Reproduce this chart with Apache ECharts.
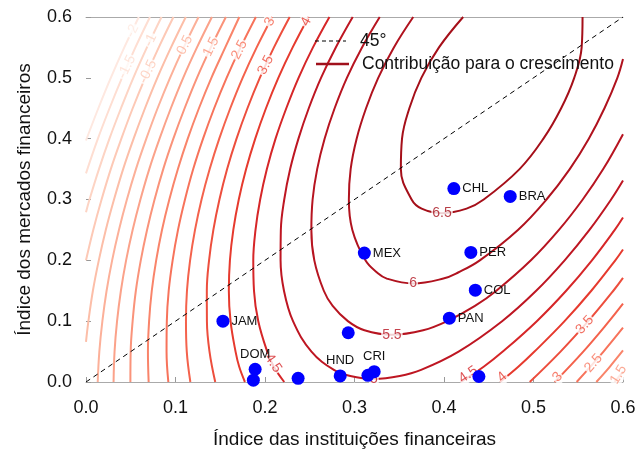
<!DOCTYPE html>
<html><head><meta charset="utf-8">
<script src="https://cdn.jsdelivr.net/npm/echarts@6/dist/echarts.min.js"></script>
<style>html,body{margin:0;padding:0;background:#fff}#c{width:639px;height:460px}</style>
</head><body><div id="c"></div>
<script>
// ---------------- data ----------------
const countries = ['CHL','BRA','MEX','PER','COL','PAN','JAM','DOM','HND','CRI','','','','',''];
const fiIndex  = [0.411,0.474,0.311,0.430,0.435,0.406,0.153,0.189,0.284,0.322,0.187,0.237,0.293,0.439,0.315];
const fmIndex  = [0.318,0.305,0.212,0.213,0.151,0.105,0.100,0.021,0.010,0.017,0.003,0.006,0.081,0.009,0.011];
const diagonal = [[0,0],[0.6,0.6]];

// contour lines (x = financial institutions index, y = financial markets index)
const c_m2  = [[0,.397],[.0138,.45],[.0277,.5],[.0428,.55],[.059,.6]];
const c_m15 = [[0,.343],[.0133,.4],[.0263,.45],[.0402,.5],[.0552,.55],[.0715,.6]];
const c_m1  = [[0,.279],[.0039,.3],[.0145,.35],[.0262,.4],[.0391,.45],[.0529,.5],[.0681,.55],[.0844,.6]];
const c_m05 = [[0,.2],[.0081,.25],[.0174,.3],[.0277,.35],[.0395,.4],[.0522,.45],[.0661,.5],[.0813,.55],[.0977,.6]];
const c_0   = [[0,.066],[.0027,.1],[.0077,.15],[.0143,.2],[.0221,.25],[.0313,.3],[.0415,.35],[.0532,.4],[.0659,.45],[.0797,.5],[.095,.55],[.1115,.6]];
const c_05  = [[.0131,0],[.0149,.05],[.0183,.1],[.023,.15],[.0292,.2],[.0368,.25],[.0457,.3],[.0558,.35],[.0674,.4],[.08,.45],[.0939,.5],[.1092,.55],[.1258,.6]];
const c_1   = [[.0308,0],[.0319,.05],[.0347,.1],[.039,.15],[.0448,.2],[.0521,.25],[.0608,.3],[.0707,.35],[.0822,.4],[.0948,.45],[.1086,.5],[.124,.55],[.1407,.6]];
const c_15  = [[.0496,0],[.0499,.05],[.0521,.1],[.0557,.15],[.0612,.2],[.0682,.25],[.0766,.3],[.0863,.35],[.0976,.4],[.1102,.45],[.124,.5],[.1395,.55],[.1563,.6]];
const c_15r = [[.5906,0],[.6,.017]];
const c_2   = [[.07,0],[.0692,.05],[.0705,.1],[.0735,.15],[.0784,.2],[.0849,.25],[.0931,.3],[.1027,.35],[.1137,.4],[.1262,.45],[.1401,.5],[.1556,.55],[.1713,.6]];
const c_2r  = [[.5702,0],[.5852,.025],[.6,.0518]];
const c_25  = [[.092,0],[.09,.05],[.0903,.1],[.0924,.15],[.0968,.2],[.1028,.25],[.1106,.3],[.1198,.35],[.1308,.4],[.1432,.45],[.1571,.5],[.1727,.55],[.1898,.6]];
const c_25r = [[.5482,0],[.5782,.05],[.6,.0892]];
const c_3   = [[.1166,0],[.1126,.05],[.1117,.1],[.1128,.15],[.1163,.2],[.1218,.25],[.1291,.3],[.1382,.35],[.1489,.4],[.1612,.45],[.175,.5],[.1907,.55],[.2081,.6]];
const c_3r  = [[.5236,0],[.5556,.05],[.5845,.1],[.6,.1287]];
const c_35  = [[.1444,0],[.138,.05],[.1351,.1],[.135,.15],[.1375,.2],[.1423,.25],[.1491,.3],[.1577,.35],[.1682,.4],[.1804,.45],[.1942,.5],[.21,.55],[.2276,.6]];
const c_35r = [[.4958,0],[.5302,.05],[.5611,.1],[.5892,.15],[.6,.1712]];
const c_4   = [[.1776,0],[.1712,.025],[.1671,.05],[.1615,.1],[.1596,.15],[.1608,.2],[.1646,.25],[.1707,.3],[.1789,.35],[.1891,.4],[.2011,.45],[.2149,.5],[.2309,.55],[.2488,.6]];
const c_4r  = [[.4626,0],[.483,.025],[.5011,.05],[.5347,.1],[.5646,.15],[.5914,.2],[.6,.2178]];
const c_45  = [[.2215,0],[.2099,.025],[.2025,.05],[.1925,.1],[.1877,.15],[.1869,.2],[.1894,.25],[.1946,.3],[.2021,.35],[.2118,.4],[.2238,.45],[.2375,.5],[.2536,.55],[.272,.6]];
const c_45r = [[.4187,0],[.4443,.025],[.4657,.05],[.5037,.1],[.5365,.15],[.5653,.2],[.5908,.25],[.6,.2703]];
const c_5   = [[.298,.6],[.2791,.55],[.2626,.5],[.2489,.45],[.2374,.4],[.2281,.35],[.2215,.3],[.2177,.25],[.2174,.2],[.2212,.15],[.2313,.1],[.2519,.05],[.277,.02],[.2953,.01],[.3216,.0053],[.3505,.01],[.3744,.02],[.4163,.05],[.4649,.1],[.503,.15],[.5348,.2],[.5625,.25],[.5867,.3],[.6,.3312]];
const c_55  = [[.3282,.6],[.3084,.55],[.2915,.5],[.2778,.45],[.2666,.4],[.2583,.35],[.2532,.3],[.2518,.25],[.2551,.2],[.2657,.15],[.2756,.125],[.2926,.1],[.3111,.085],[.3418,.0776],[.3767,.085],[.4036,.1],[.4346,.125],[.4585,.15],[.4971,.2],[.5284,.25],[.555,.3],[.5779,.35],[.6,.4074]];
const c_6   = [[.3656,.6],[.344,.55],[.3265,.5],[.3129,.45],[.3024,.4],[.2957,.35],[.2937,.3],[.2976,.25],[.3122,.2],[.3252,.18],[.3361,.17],[.3654,.1619],[.3993,.17],[.4158,.18],[.44,.2],[.4826,.25],[.5145,.3],[.5405,.35],[.5618,.4],[.5793,.45],[.5937,.5],[.6,.5309]];
const c_65  = [[.4214,.6],[.3944,.55],[.3747,.5],[.3613,.45],[.3531,.4],[.3518,.35],[.3638,.3],[.375,.285],[.3978,.2776],[.4252,.285],[.4444,.3],[.4844,.35],[.5111,.4],[.5309,.45],[.5455,.5],[.5538,.55],[.5548,.6]];

const contourLevels = [-2,-1.5,-1,-0.5,0,0.5,1,1.5,1.5,2,2,2.5,2.5,3,3,3.5,3.5,4,4,4.5,4.5,5,5.5,6,6.5];
const contourLines  = [c_m2,c_m15,c_m1,c_m05,c_0,c_05,c_1,c_15,c_15r,c_2,c_2r,c_25,c_25r,c_3,c_3r,c_35,c_35r,c_4,c_4r,c_45,c_45r,c_5,c_55,c_6,c_65];

// contour labels: [x, y, text]
const contourLabelText = ['-2','-1.5','-1','-0.5','0.5','1.5','2.5','3.5','3','4','6.5','6','5.5','5','4.5','4.5','4','3','3.5','2.5','1.5'];
const contourLabelX    = [.052,.0456,.072,.0691,.1105,.1398,.1715,.2008,.2053,.2459,.3978,.3654,.3418,.3216,.209,.427,.465,.527,.5574,.567,.595];
const contourLabelY    = [.577,.518,.562,.51,.554,.551,.546,.521,.592,.592,.2776,.1619,.0776,.0053,.031,.012,.008,.008,.094,.031,.012];

// ---------------- style ----------------
const contourLabelAngle = [64,64,64,64,64,64,63,63,63,62,0,0,0,0,-56,34,41,47,48,49,58];
const labelSide = ['right','right','right','right','right','right','right','top','top','top','right','right','right','right','right'];
const FONT = 'Liberation Sans, Arial, sans-serif';
const colorStops = [[-2,[254,232,224]],[-1,[253,212,196]],[0,[252,190,168]],[1,[251,162,138]],[2,[249,132,106]],[3,[244,98,76]],[4,[230,58,46]],[4.5,[214,38,40]],[5,[190,22,34]],[6,[176,18,30]],[6.5,[165,15,25]]];
function levelColor(l){
  for (let i=1;i<colorStops.length;i++){
    if (l<=colorStops[i][0]){
      const a=colorStops[i-1], b=colorStops[i], t=(l-a[0])/(b[0]-a[0]);
      return 'rgb('+a[1].map((v,k)=>Math.round(v+(b[1][k]-v)*t)).join(',')+')';
    }
  }
  return 'rgb(165,15,25)';
}

const series = [];
contourLines.forEach((pts,i)=>{
  series.push({type:'line',name:'contour'+i,data:pts,smooth:0.4,symbol:'none',clip:true,
    lineStyle:{color:levelColor(contourLevels[i]),width:2},z:2,silent:true});
});
series.push({type:'scatter',name:'contourLabels',symbolSize:0,z:3,silent:true,
  data:contourLabelText.map((t,i)=>({value:[contourLabelX[i],contourLabelY[i]],
    label:{show:true,formatter:t,position:'inside',rotate:contourLabelAngle[i],
      color:levelColor(parseFloat(t)),fontSize:14,fontFamily:FONT,backgroundColor:'#fff',padding:[0,1]}}))});
series.push({type:'line',name:'45°',data:diagonal,symbol:'none',lineStyle:{color:'#000',width:1,type:[5,4]},z:4,silent:true});
series.push({type:'scatter',name:'países',symbolSize:13,itemStyle:{color:'#0000ff',opacity:1},z:5,
  data:fiIndex.map((x,i)=>({value:[x,fmIndex[i]],label:{show:countries[i]!=='',formatter:countries[i],position:labelSide[i],distance:2,
    color:'#111',fontSize:13,fontFamily:FONT}}))});

const chart = echarts.init(document.getElementById('c'),null,{renderer:'canvas'});
chart.setOption({
  animation:false,
  grid:{left:86,right:16,top:17,bottom:78},
  xAxis:[{type:'value',min:0,max:0.6,interval:0.1,position:'bottom',
    axisLine:{show:true,lineStyle:{color:'#aaa'}},axisTick:{show:true,inside:true,length:5,lineStyle:{color:'#999'}},
    splitLine:{show:false},axisLabel:{formatter:v=>v.toFixed(1),fontSize:18,fontFamily:FONT,color:'#111',margin:17},
    name:'Índice das instituições financeiras',nameLocation:'middle',nameGap:48,nameTextStyle:{fontSize:19,fontFamily:FONT,color:'#111'}},
    {type:'value',min:0,max:0.6,position:'top',axisLine:{show:true,lineStyle:{color:'#aaa'}},axisTick:{show:false},axisLabel:{show:false},splitLine:{show:false}}],
  yAxis:{type:'value',min:0,max:0.6,interval:0.1,
    axisLine:{show:false},axisTick:{show:true,inside:true,length:5,lineStyle:{color:'#999'}},splitLine:{show:false},
    axisLabel:{formatter:v=>v.toFixed(1),fontSize:18,fontFamily:FONT,color:'#111',margin:14},
    name:'Índice dos mercados financeiros',nameLocation:'middle',nameGap:52,nameTextStyle:{fontSize:19,fontFamily:FONT,color:'#111'}},
  graphic:[
    {type:'line',shape:{x1:315,y1:41,x2:346,y2:41},style:{stroke:'#000',lineWidth:1,lineDash:[4,3]},z:10},
    {type:'text',x:360,y:41,style:{text:'45°',font:'17.5px '+FONT,fill:'#111',textVerticalAlign:'middle'},z:10},
    {type:'line',shape:{x1:316,y1:64,x2:349,y2:64},style:{stroke:'rgb(160,16,28)',lineWidth:2.5},z:10},
    {type:'text',x:362,y:64,style:{text:'Contribuição para o crescimento',font:'17.5px '+FONT,fill:'#111',textVerticalAlign:'middle'},z:10}
  ],
  series
});
</script></body></html>
